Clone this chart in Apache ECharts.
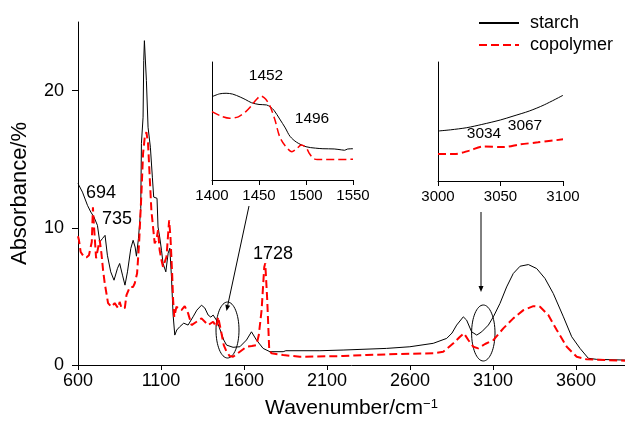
<!DOCTYPE html>
<html>
<head>
<meta charset="utf-8">
<script src="https://cdn.jsdelivr.net/npm/echarts@6/dist/echarts.min.js"></script>
<style>
  html, body { margin: 0; padding: 0; background: #fff; }
  #chart { width: 625px; height: 425px; }
</style>
</head>
<body>
<div id="chart"></div>
<script>
// 主图数据 (wavenumber / absorbance)
const starchWn = [600, 606, 627, 657, 677, 696, 707, 717, 731, 747, 763, 777, 797, 817, 838, 851, 868, 883, 898, 918, 932, 944, 952, 964, 978, 982, 992, 996, 1000, 1006, 1012, 1022, 1036, 1048, 1056, 1068, 1076, 1082, 1092, 1103, 1112, 1129, 1143, 1153, 1163, 1169, 1173, 1183, 1195, 1213, 1237, 1263, 1293, 1316, 1344, 1364, 1384, 1400, 1414, 1434, 1448, 1464, 1478, 1495, 1534, 1575, 1615, 1645, 1675, 1715, 1756, 1836, 1852, 2057, 2197, 2459, 2599, 2740, 2821, 2853, 2881, 2921, 2941, 2971, 3002, 3032, 3072, 3102, 3142, 3182, 3222, 3263, 3313, 3363, 3413, 3463, 3524, 3574, 3624, 3674, 3725, 3895];
const starchAbs = [13.24, 13.09, 12.6, 11.64, 11.15, 10.79, 10.69, 10.18, 8.97, 9.21, 9.45, 8.0, 6.79, 6.18, 7.05, 7.4, 6.55, 5.82, 6.79, 8.49, 9.09, 8.6, 7.93, 9.21, 11.4, 16.15, 18.06, 22.2, 23.64, 23.5, 20.73, 17.33, 15.87, 13.69, 12.24, 12.36, 12.15, 10.06, 9.33, 8.36, 7.42, 6.79, 8.15, 8.51, 6.42, 4.73, 3.64, 2.18, 2.55, 2.79, 3.05, 2.91, 3.51, 4.0, 4.36, 4.15, 3.64, 3.49, 3.64, 3.27, 2.84, 2.31, 1.82, 1.45, 1.29, 1.33, 1.82, 2.42, 1.82, 1.21, 0.97, 0.97, 1.04, 1.04, 1.09, 1.21, 1.33, 1.58, 1.94, 2.33, 2.91, 3.51, 3.27, 2.42, 2.18, 2.42, 2.91, 3.51, 4.49, 5.69, 6.67, 7.2, 7.32, 7.03, 6.31, 5.21, 3.51, 2.06, 1.21, 0.49, 0.41, 0.36];

const copoWn = [600, 606, 616, 636, 652, 666, 683, 690, 696, 709, 722, 731, 741, 751, 761, 781, 801, 821, 841, 851, 862, 882, 892, 912, 932, 942, 956, 968, 982, 992, 1002, 1012, 1022, 1032, 1042, 1052, 1062, 1072, 1082, 1092, 1103, 1112, 1133, 1149, 1157, 1167, 1173, 1180, 1193, 1223, 1243, 1263, 1284, 1314, 1344, 1384, 1414, 1434, 1444, 1451, 1464, 1478, 1495, 1514, 1534, 1575, 1615, 1647, 1675, 1689, 1706, 1722, 1728, 1740, 1752, 1766, 1836, 1936, 2197, 2338, 2519, 2740, 2800, 2861, 2901, 2925, 2951, 2981, 3011, 3052, 3102, 3162, 3222, 3283, 3343, 3383, 3433, 3484, 3544, 3604, 3665, 3895];
const copoAbs = [9.38, 9.09, 8.24, 7.88, 7.85, 8.0, 8.97, 11.49, 10.18, 7.78, 8.6, 9.09, 8.15, 6.91, 5.96, 4.51, 4.24, 4.51, 4.15, 4.6, 4.15, 4.15, 5.09, 5.69, 5.69, 5.96, 6.69, 8.87, 12.51, 15.42, 16.6, 16.97, 16.15, 13.69, 11.27, 10.06, 8.87, 9.09, 9.82, 8.36, 7.64, 7.15, 7.88, 10.55, 9.33, 6.69, 4.73, 3.51, 4.24, 4.0, 4.29, 3.78, 2.91, 3.15, 3.4, 2.91, 3.15, 2.79, 3.51, 3.42, 2.33, 1.45, 0.97, 0.65, 0.6, 0.97, 1.33, 1.38, 1.45, 2.18, 4.0, 7.15, 7.42, 4.7, 1.09, 0.85, 0.73, 0.6, 0.65, 0.73, 0.8, 0.85, 0.97, 1.58, 2.06, 2.31, 1.82, 1.33, 1.21, 1.53, 1.82, 2.67, 3.4, 4.0, 4.29, 4.24, 3.64, 2.55, 1.33, 0.6, 0.41, 0.31];

// 放大图 1400-1550
const in1StarchWn = [1400, 1408, 1415, 1422, 1430, 1436, 1442, 1450, 1458, 1462, 1466, 1472, 1478, 1483, 1490, 1500, 1510, 1518, 1530, 1538, 1541, 1544, 1550];
const in1StarchAbs = [7.06, 7.3, 7.35, 7.28, 7.03, 6.8, 6.55, 6.4, 6.36, 6.2, 5.9, 5.17, 4.41, 3.7, 3.2, 2.82, 2.7, 2.65, 2.63, 2.55, 2.52, 2.62, 2.65];
const in1CopoWn = [1400, 1410, 1419, 1428, 1436, 1442, 1447, 1452, 1457, 1462, 1467, 1472, 1478, 1485, 1490, 1495, 1500, 1504, 1508, 1512, 1550];
const in1CopoAbs = [5.79, 5.4, 5.23, 5.35, 5.8, 6.3, 6.8, 7.12, 6.86, 6.21, 5.08, 3.67, 2.88, 2.4, 2.65, 2.97, 2.75, 2.2, 1.82, 1.74, 1.75];

// 放大图 3000-3100
const in2StarchWn = [3000, 3010, 3023, 3035, 3050, 3060, 3073, 3085, 3100];
const in2StarchAbs = [4.2, 4.3, 4.48, 4.75, 5.13, 5.45, 5.88, 6.4, 7.2];
const in2CopoWn = [3000, 3013, 3025, 3036, 3052, 3066, 3080, 3100];
const in2CopoAbs = [2.27, 2.27, 2.55, 2.9, 2.85, 3.08, 3.25, 3.5];

// 刻度
const mainTicksX = [600, 1100, 1600, 2100, 2600, 3100, 3600];
const mainTicksY = [0, 10, 20];
const inset1Ticks = [1400, 1450, 1500, 1550];
const inset2Ticks = [3000, 3050, 3100];

// 标注
const peakLabels = [
  { text: '694', x: 101, y: 193, size: 18 },
  { text: '735', x: 117, y: 219, size: 18 },
  { text: '1728', x: 273, y: 254, size: 18 },
  { text: '1452', x: 266, y: 76, size: 15.5 },
  { text: '1496', x: 312, y: 119, size: 15.5 },
  { text: '3034', x: 484, y: 134, size: 15.5 },
  { text: '3067', x: 525, y: 126, size: 15.5 }
];

const FONT = '"Liberation Sans", Arial, Helvetica, sans-serif';
const zip = (a, b) => a.map((v, i) => [v, b[i]]);

const chart = echarts.init(document.getElementById('chart'));

function xAxisOf(gridIndex, min, max, ticks, fontSize, margin) {
  return {
    type: 'value', gridIndex, min, max,
    axisLine: { lineStyle: { color: '#000', width: 1 } },
    axisTick: { show: true, length: 5, customValues: ticks, lineStyle: { color: '#000' } },
    axisLabel: { customValues: ticks, color: '#000', fontSize, fontFamily: FONT, margin, formatter: (v) => String(v) },
    splitLine: { show: false }
  };
}

function arrow(x1, y1, x2, y2) {
  const dx = x2 - x1, dy = y2 - y1, len = Math.hypot(dx, dy);
  const ux = dx / len, uy = dy / len, hl = 6, hw = 2.5;
  const bx = x2 - ux * hl, by = y2 - uy * hl;
  return [
    { type: 'line', shape: { x1, y1, x2: bx, y2: by }, style: { stroke: '#000', lineWidth: 1 } },
    { type: 'polygon', shape: { points: [[x2, y2], [bx - uy * hw, by + ux * hw], [bx + uy * hw, by - ux * hw]] }, style: { fill: '#000' } }
  ];
}

const graphics = [
  { type: 'ellipse', shape: { cx: 227.5, cy: 330, rx: 11.5, ry: 28 }, style: { fill: 'none', stroke: '#000', lineWidth: 1 } },
  { type: 'ellipse', shape: { cx: 483.3, cy: 333, rx: 11.7, ry: 28 }, style: { fill: 'none', stroke: '#000', lineWidth: 1 } },
  ...arrow(249, 206, 226.5, 311),
  ...arrow(481, 212, 481, 292),
  ...peakLabels.map((p) => ({
    type: 'text', x: p.x, y: p.y,
    style: { text: p.text, fill: '#000', fontSize: p.size, fontFamily: FONT, align: 'center', verticalAlign: 'middle' }
  }))
];

const blackLine = { color: '#000', width: 1 };
const redLine = { color: '#ff0000', width: 2, type: [8, 4] };

chart.setOption({
  animation: false,
  backgroundColor: '#fff',
  legend: {
    orient: 'vertical', left: 478, top: 14, padding: 0,
    itemWidth: 40, itemHeight: 14, itemGap: 4,
    data: ['starch', 'copolymer'],
    itemStyle: { opacity: 0 },
    textStyle: { fontSize: 18, fontFamily: FONT, color: '#000', padding: [0, 0, 0, 6] }
  },
  grid: [
    { left: 78, right: 0, top: 22, bottom: 60 },
    { left: 212, top: 62, width: 141, height: 118 },
    { left: 438, top: 62, width: 125, height: 119 }
  ],
  xAxis: [
    Object.assign(xAxisOf(0, 600, 3895, mainTicksX, 18, 7), {
      name: '{b|Wavenumber/cm}{sup|\u22121}',
      nameLocation: 'middle', nameGap: 33,
      nameTextStyle: {
        color: '#000', fontFamily: FONT,
        rich: {
          b: { fontSize: 21, fontFamily: FONT, color: '#000' },
          sup: { fontSize: 13, fontFamily: FONT, color: '#000', verticalAlign: 'top' }
        }
      }
    }),
    xAxisOf(1, 1400, 1550, inset1Ticks, 15, 8),
    xAxisOf(2, 3000, 3100, inset2Ticks, 15, 8)
  ],
  yAxis: [
    {
      type: 'value', gridIndex: 0, min: 0, max: 25,
      name: 'Absorbance/%', nameLocation: 'middle', nameGap: 47,
      nameTextStyle: { fontSize: 22, fontFamily: FONT, color: '#000' },
      axisLine: { show: true, lineStyle: { color: '#000', width: 1 } },
      axisTick: { show: true, length: 6, customValues: mainTicksY, lineStyle: { color: '#000' } },
      axisLabel: { customValues: mainTicksY, color: '#000', fontSize: 18, fontFamily: FONT, margin: 14 },
      splitLine: { show: false }
    },
    {
      type: 'value', gridIndex: 1, min: 0, max: 10,
      axisLine: { show: true, lineStyle: { color: '#000', width: 1 } },
      axisTick: { show: false }, axisLabel: { show: false }, splitLine: { show: false }
    },
    {
      type: 'value', gridIndex: 2, min: 0, max: 10,
      axisLine: { show: true, lineStyle: { color: '#000', width: 1 } },
      axisTick: { show: false }, axisLabel: { show: false }, splitLine: { show: false }
    }
  ],
  series: [
    { name: 'starch', type: 'line', xAxisIndex: 0, yAxisIndex: 0, symbol: 'none', color: '#000', lineStyle: blackLine, data: zip(starchWn, starchAbs) },
    { name: 'copolymer', type: 'line', xAxisIndex: 0, yAxisIndex: 0, symbol: 'none', color: '#ff0000', lineStyle: redLine, data: zip(copoWn, copoAbs) },
    { name: 'starch', type: 'line', xAxisIndex: 1, yAxisIndex: 1, symbol: 'none', color: '#000', lineStyle: blackLine, smooth: 0.3, data: zip(in1StarchWn, in1StarchAbs) },
    { name: 'copolymer', type: 'line', xAxisIndex: 1, yAxisIndex: 1, symbol: 'none', color: '#ff0000', lineStyle: Object.assign({}, redLine, { width: 1.5 }), smooth: 0.3, data: zip(in1CopoWn, in1CopoAbs) },
    { name: 'starch', type: 'line', xAxisIndex: 2, yAxisIndex: 2, symbol: 'none', color: '#000', lineStyle: blackLine, smooth: 0.3, data: zip(in2StarchWn, in2StarchAbs) },
    { name: 'copolymer', type: 'line', xAxisIndex: 2, yAxisIndex: 2, symbol: 'none', color: '#ff0000', lineStyle: redLine, smooth: 0.3, data: zip(in2CopoWn, in2CopoAbs) }
  ],
  graphic: graphics
});
</script>
</body>
</html>
